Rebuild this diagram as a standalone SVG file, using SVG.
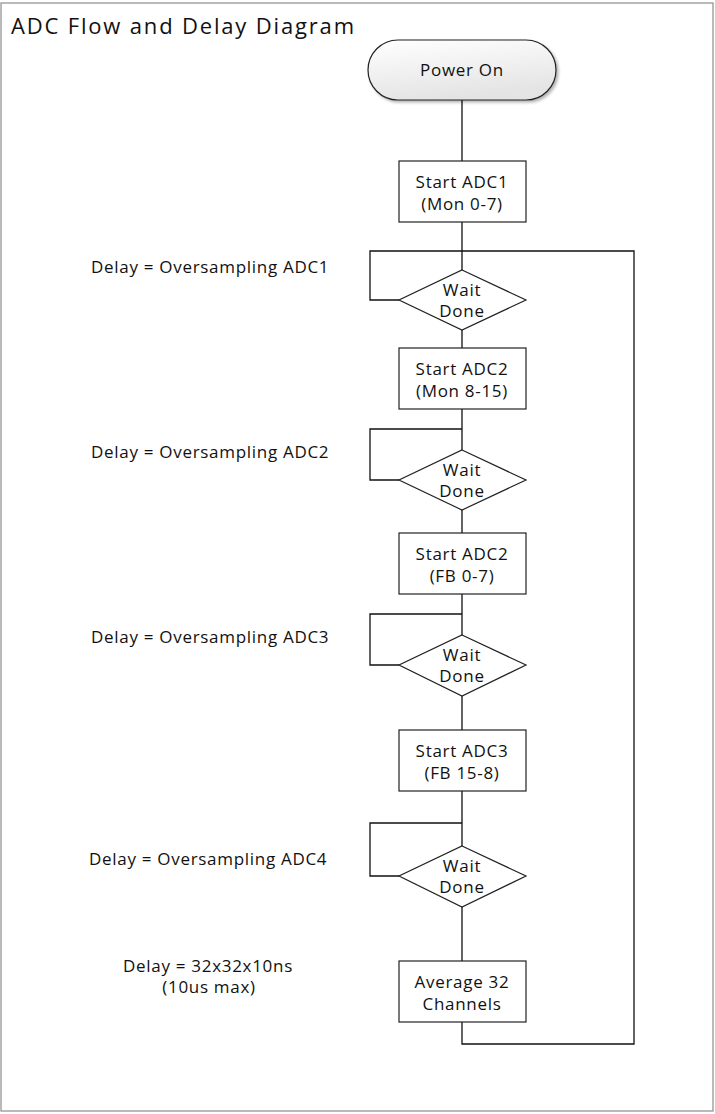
<svg xmlns="http://www.w3.org/2000/svg" width="715" height="1114" viewBox="0 0 715 1114">
<style>
text{font-family:"Open Sans","Liberation Sans",sans-serif;fill:#111}
.t{font-size:17px;text-anchor:middle;letter-spacing:0.7px}
.l{font-size:17px;letter-spacing:0.7px}
.s{fill:#fff;stroke:#222;stroke-width:1.2}
.c{fill:none;stroke:#111;stroke-width:1.3}
</style>
<defs>
<linearGradient id="g" x1="0" y1="0" x2="0.3" y2="1">
<stop offset="0" stop-color="#ffffff"/>
<stop offset="1" stop-color="#e4e4e4"/>
</linearGradient>
<filter id="sh" x="-10%" y="-10%" width="130%" height="140%">
<feGaussianBlur in="SourceAlpha" stdDeviation="1.5"/>
<feOffset dx="2" dy="2"/>
<feComponentTransfer><feFuncA type="linear" slope="0.3"/></feComponentTransfer>
<feMerge><feMergeNode/><feMergeNode in="SourceGraphic"/></feMerge>
</filter>
</defs>
<rect x="1" y="3" width="712" height="1108" fill="#fff" stroke="#8c8c8c" stroke-width="1.2"/>
<text x="11" y="34" style="font-size:22px" textLength="343" lengthAdjust="spacing">ADC Flow and Delay Diagram</text>
<g id="connectors">
<path class="c" d="M462 100V161M462 222V270M462 330V348M462 409V450M462 510V533M462 594V635M462 696V730M462 791V846M462 907V961"/>
<path class="c" d="M462 1022V1044H634V251H462"/>
<path class="c" d="M399 300H370V251H462"/>
<path class="c" d="M399 480H370V429H462"/>
<path class="c" d="M399 665H370V614H462"/>
<path class="c" d="M399 876H370V823H462"/>
</g>
<g id="power-on"><rect x="368" y="40" width="188" height="60" rx="30" fill="url(#g)" stroke="#222" stroke-width="1.2" filter="url(#sh)"/><text class="t" x="462" y="76">Power On</text></g>
<g id="start-adc1"><rect class="s" x="399" y="161" width="127" height="61"/><text class="t" x="462" y="188">Start ADC1</text><text class="t" x="462" y="210">(Mon 0-7)</text></g>
<g id="wait1"><polygon class="s" points="462,270 526,300 462,330 399,300"/><text class="t" x="462" y="296">Wait</text><text class="t" x="462" y="317">Done</text></g>
<g id="start-adc2a"><rect class="s" x="399" y="348" width="127" height="61"/><text class="t" x="462" y="375">Start ADC2</text><text class="t" x="462" y="397">(Mon 8-15)</text></g>
<g id="wait2"><polygon class="s" points="462,450 526,480 462,510 399,480"/><text class="t" x="462" y="476">Wait</text><text class="t" x="462" y="497">Done</text></g>
<g id="start-adc2b"><rect class="s" x="399" y="533" width="127" height="61"/><text class="t" x="462" y="560">Start ADC2</text><text class="t" x="462" y="582">(FB 0-7)</text></g>
<g id="wait3"><polygon class="s" points="462,635 526,665 462,696 399,665"/><text class="t" x="462" y="661">Wait</text><text class="t" x="462" y="682">Done</text></g>
<g id="start-adc3"><rect class="s" x="399" y="730" width="127" height="61"/><text class="t" x="462" y="757">Start ADC3</text><text class="t" x="462" y="779">(FB 15-8)</text></g>
<g id="wait4"><polygon class="s" points="462,846 526,876 462,907 399,876"/><text class="t" x="462" y="872">Wait</text><text class="t" x="462" y="893">Done</text></g>
<g id="average"><rect class="s" x="399" y="961" width="127" height="61"/><text class="t" x="462" y="988">Average 32</text><text class="t" x="462" y="1010">Channels</text></g>
<g id="labels">
<text class="l" x="91" y="273">Delay = Oversampling ADC1</text>
<text class="l" x="91" y="458">Delay = Oversampling ADC2</text>
<text class="l" x="91" y="643">Delay = Oversampling ADC3</text>
<text class="l" x="89" y="865">Delay = Oversampling ADC4</text>
<text class="t" x="208" y="972">Delay = 32x32x10ns</text>
<text class="t" x="209" y="993">(10us max)</text>
</g>
</svg>
